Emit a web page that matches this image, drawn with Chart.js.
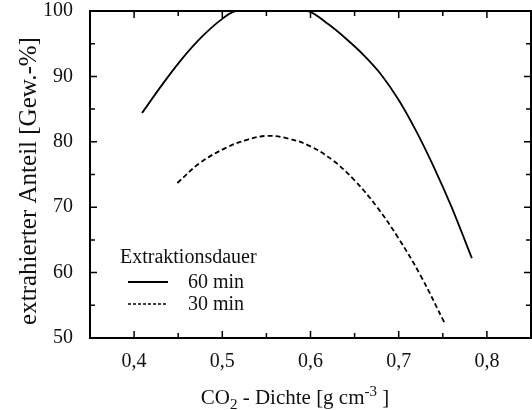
<!DOCTYPE html>
<html>
<head>
<meta charset="utf-8">
<script src="https://cdn.jsdelivr.net/npm/chart.js@4/dist/chart.umd.min.js"></script>
<style>
html,body{margin:0;padding:0;background:#fff;}
#wrap{width:532px;height:410px;}
</style>
</head>
<body>
<div id="wrap"><canvas id="c" width="532" height="410"></canvas></div>
<script>
// ---- data ----
const xTicks = [0.4, 0.5, 0.6, 0.7, 0.8];
const yTicks = [50, 60, 70, 80, 90, 100];

const dens60 = [0.409, 0.430, 0.452, 0.475, 0.498, 0.515, 0.597, 0.620, 0.640, 0.660, 0.680, 0.700, 0.720, 0.740, 0.760, 0.783];
const yield60 = [84.4, 88.4, 92.3, 95.8, 98.6, 100, 100, 98.0, 95.8, 93.3, 90.3, 86.4, 81.6, 76.1, 70.0, 62.2];

const dens30 = [0.449, 0.475, 0.506, 0.528, 0.550, 0.575, 0.600, 0.625, 0.650, 0.675, 0.700, 0.725, 0.752];
const yield30 = [73.7, 76.8, 79.2, 80.3, 80.9, 80.5, 79.3, 77.2, 74.1, 70.1, 65.2, 59.5, 52.3];

const seriesLabels = ['60 min', '30 min'];
const legendTitle = 'Extraktionsdauer';
const yTitle = 'extrahierter Anteil [Gew.-%]';

const FONT = "'Liberation Serif', 'Times New Roman', serif";
const toPts = (xs, ys) => xs.map((x, i) => ({x: x, y: ys[i]}));

const framePlugin = {
  id: 'frame',
  afterDatasetsDraw(chart) {
    const {ctx, chartArea: a, scales: {x, y}} = chart;
    ctx.save();
    ctx.strokeStyle = '#000';
    ctx.lineWidth = 2;
    ctx.strokeRect(a.left, a.top, a.right - a.left, a.bottom - a.top);
    ctx.lineWidth = 1.5;
    const xs = [];
    xTicks.forEach(v => { xs.push([v, 7]); xs.push([v - 0.05, 5]); });
    xs.push([xTicks[xTicks.length - 1] + 0.05, 5]);
    xs.forEach(([v, len]) => {
      const px = x.getPixelForValue(v);
      if (px <= a.left + 1 || px >= a.right - 1) return;
      ctx.beginPath();
      ctx.moveTo(px, a.bottom); ctx.lineTo(px, a.bottom - len);
      ctx.moveTo(px, a.top); ctx.lineTo(px, a.top + len);
      ctx.stroke();
    });
    const ys = [];
    yTicks.forEach(v => { ys.push([v, 7]); ys.push([v + 5, 5]); });
    ys.forEach(([v, len]) => {
      const py = y.getPixelForValue(v);
      if (py <= a.top + 1 || py >= a.bottom - 1) return;
      ctx.beginPath();
      ctx.moveTo(a.left, py); ctx.lineTo(a.left + len, py);
      ctx.moveTo(a.right, py); ctx.lineTo(a.right - len, py);
      ctx.stroke();
    });
    ctx.restore();
  },
  afterDraw(chart) {
    const {ctx, chartArea: a} = chart;
    ctx.save();
    ctx.fillStyle = '#111';
    ctx.translate(29, 181);
    ctx.rotate(-Math.PI / 2);
    ctx.font = '25px ' + FONT;
    ctx.textAlign = 'center';
    ctx.textBaseline = 'middle';
    ctx.fillText(yTitle, 0, 0);
    ctx.restore();

    ctx.save();
    ctx.fillStyle = '#111';
    ctx.textBaseline = 'alphabetic';
    ctx.textAlign = 'left';
    const parts = [
      ['CO', 21, 0], ['2', 15, 5], [' - Dichte [g cm', 21, 0], ['-3', 15, -8], [' ]', 21, 0]
    ];
    let total = 0;
    parts.forEach(p => { ctx.font = p[1] + 'px ' + FONT; total += ctx.measureText(p[0]).width; });
    let cx = 295 - total / 2;
    const base = a.bottom + 66;
    parts.forEach(p => {
      ctx.font = p[1] + 'px ' + FONT;
      ctx.fillText(p[0], cx, base + p[2]);
      cx += ctx.measureText(p[0]).width;
    });

    const lx = a.left + 30, ly = a.top + 247;
    ctx.font = '20px ' + FONT;
    ctx.textBaseline = 'middle';
    ctx.fillText(legendTitle, lx, ly);
    const ds = chart.data.datasets;
    ds.forEach((d, i) => {
      const yy = ly + 24 + i * 22;
      ctx.save();
      ctx.strokeStyle = '#000';
      ctx.lineWidth = i === 0 ? 2 : 1.5;
      ctx.setLineDash(i === 0 ? [] : [3, 2]);
      ctx.beginPath();
      ctx.moveTo(lx + 8, yy); ctx.lineTo(lx + 48, yy);
      ctx.stroke();
      ctx.restore();
      ctx.fillText(d.label, lx + 68, yy + 1);
    });
    ctx.restore();
  }
};

new Chart(document.getElementById('c'), {
  type: 'line',
  data: {
    datasets: [
      {label: seriesLabels[0], data: toPts(dens60, yield60), borderColor: '#000', borderWidth: 1.8, pointRadius: 0, tension: 0.25, fill: false},
      {label: seriesLabels[1], data: toPts(dens30, yield30), borderColor: '#000', borderWidth: 1.8, borderDash: [5, 3], pointRadius: 0, tension: 0.4, fill: false}
    ]
  },
  options: {
    responsive: false,
    animation: false,
    devicePixelRatio: 1,
    layout: {padding: {top: 11, right: 1, left: 0, bottom: 0}},
    plugins: {legend: {display: false}, tooltip: {enabled: false}},
    scales: {
      x: {
        type: 'linear', min: 0.35, max: 0.85,
        afterBuildTicks: s => { s.ticks = xTicks.map(v => ({value: v})); },
        afterFit: s => { s.height = 72; },
        grid: {display: false, drawTicks: false},
        border: {display: false},
        ticks: {
          padding: 12, color: '#111',
          font: {family: FONT, size: 20},
          callback: v => v.toFixed(1).replace('.', ',')
        }
      },
      y: {
        type: 'linear', min: 50, max: 100,
        afterBuildTicks: s => { s.ticks = yTicks.map(v => ({value: v})); },
        afterFit: s => { s.width = 90; s.paddingTop = 0; s.paddingBottom = 0; },
        grid: {display: false, drawTicks: false},
        border: {display: false},
        ticks: {
          padding: 17, color: '#111',
          font: {family: FONT, size: 20, lineHeight: 0.5}
        }
      }
    }
  },
  plugins: [framePlugin]
});
</script>
</body>
</html>
